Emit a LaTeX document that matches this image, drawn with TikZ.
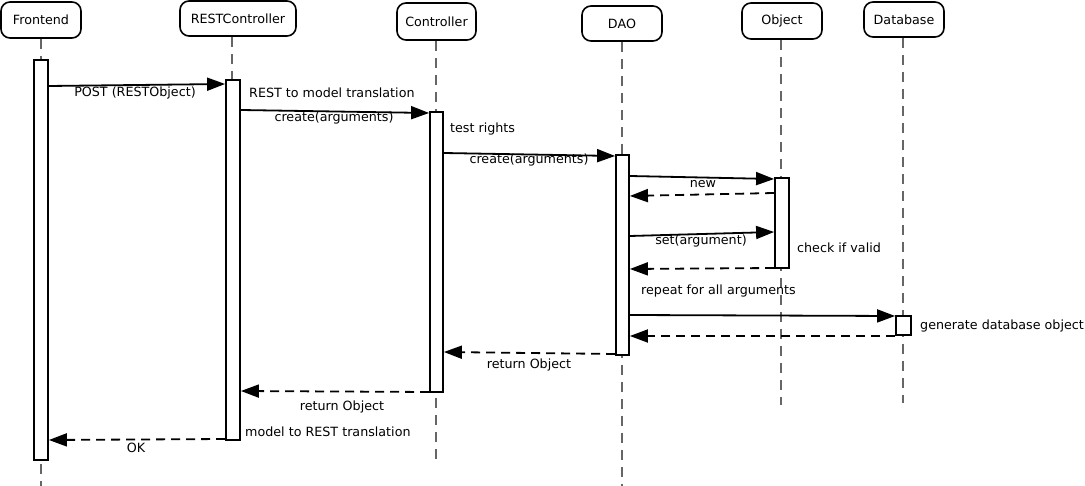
\documentclass[tikz,border=0pt]{standalone}
\usepackage{fontspec}
\setmainfont{DejaVu Sans}
\usetikzlibrary{arrows.meta}
\begin{document}
\begin{tikzpicture}[x=1pt,y=-1pt,
  every node/.style={font=\fontsize{12.7pt}{15pt}\selectfont},
  head/.style={draw,line width=1.6pt,rounded corners=9pt,fill=white,inner sep=0pt},
  life/.style={draw=black!60,line width=1.3pt,dash pattern=on 10pt off 7pt},
  bar/.style={draw,line width=1.8pt,fill=white,inner sep=0pt},
  msg/.style={line width=1.8pt,-{Triangle[length=18pt,width=13pt]}},
  ret/.style={msg,dash pattern=on 9pt off 6pt},
  lbl/.style={inner sep=0pt},
  note/.style={inner sep=0pt,anchor=west}]
\useasboundingbox (0,0) rectangle (1085,486);
% heads
\node[head,minimum width=80pt,minimum height=36pt] (hFE) at (41,20) {Frontend};
\node[head,minimum width=116pt,minimum height=35pt] (hRC) at (238,18.5) {RESTController};
\node[head,minimum width=79pt,minimum height=37pt] (hCT) at (436.5,21.5) {Controller};
\node[head,minimum width=80pt,minimum height=35pt] (hDA) at (622,23.5) {DAO};
\node[head,minimum width=80pt,minimum height=36pt] (hOB) at (782,21) {Object};
\node[head,minimum width=80pt,minimum height=35pt] (hDB) at (904,19.5) {Database};
% lifeline ends
\coordinate (eFE) at (41,486);
\coordinate (eRC) at (232,440);
\coordinate (eCT) at (436,465);
\coordinate (eDA) at (622,486);
\coordinate (eOB) at (781,405);
\coordinate (eDB) at (903,403);
\draw[life] (hFE.south -| eFE) -- (eFE);
\draw[life] (hRC.south -| eRC) -- (eRC);
\draw[life] (hCT.south -| eCT) -- (eCT);
\draw[life] (hDA.south -| eDA) -- (eDA);
\draw[life] (hOB.south -| eOB) -- (eOB);
\draw[life] (hDB.south -| eDB) -- (eDB);
% activation bars
\node[bar,minimum width=14pt,minimum height=400pt] (bFE) at (41,260) {};
\node[bar,minimum width=14pt,minimum height=360pt] (bRC) at (233,260) {};
\node[bar,minimum width=13pt,minimum height=280pt] (bCT) at (436.5,252) {};
\node[bar,minimum width=13pt,minimum height=200pt] (bDA) at (622.5,255) {};
\node[bar,minimum width=14pt,minimum height=90pt] (bOB) at (782,223) {};
\node[bar,minimum width=15pt,minimum height=19pt] (bDB) at (903.5,325.5) {};
% messages
\draw[msg] (bFE.east |- 0,86) -- (bRC.west |- 0,84);
\node[lbl] (l1) at (135,92.5) {POST (RESTObject)};
\draw[msg] (bRC.east |- 0,110) -- (bCT.west |- 0,113);
\node[lbl] (l2) at (334,118.5) {create(arguments)};
\draw[msg] (bCT.east |- 0,153) -- (bDA.west |- 0,156);
\node[lbl] (l3) at (529,160.5) {create(arguments)};
\draw[msg] (bDA.east |- 0,176) -- (bOB.west |- 0,179);
\node[lbl] (l4) at (703,184.5) {new};
\draw[ret] (bOB.west |- 0,193) -- (bDA.east |- 0,196);
\draw[msg] (bDA.east |- 0,236) -- (bOB.west |- 0,232);
\node[lbl] (l5) at (701,241.5) {set(argument)};
\draw[ret] (bOB.west |- 0,268) -- (bDA.east |- 0,269);
\draw[msg] (bDA.east |- 0,315) -- (bDB.west |- 0,316);
\draw[ret] (bDB.west |- 0,336) -- (bDA.east |- 0,336);
\draw[ret] (bDA.west |- 0,354) -- (bCT.east |- 0,352);
\node[lbl] (l6) at (529,364.5) {return Object};
\draw[ret] (bCT.west |- 0,392) -- (bRC.east |- 0,391);
\node[lbl] (l7) at (342,406.5) {return Object};
\draw[ret] (bRC.west |- 0,439) -- (bFE.east |- 0,440);
\node[lbl] (l8) at (136,447.5) {OK};
% notes
\node[note] (n1) at (249,92.5) {REST to model translation};
\node[note] (n2) at (450,128.5) {test rights};
\node[note] (n3) at (797,247.5) {check if valid};
\node[note] (n4) at (641,290.5) {repeat for all arguments};
\node[note] (n5) at (920,325.5) {generate database object};
\node[note] (n6) at (245,431.5) {model to REST translation};
\end{tikzpicture}
\end{document}
